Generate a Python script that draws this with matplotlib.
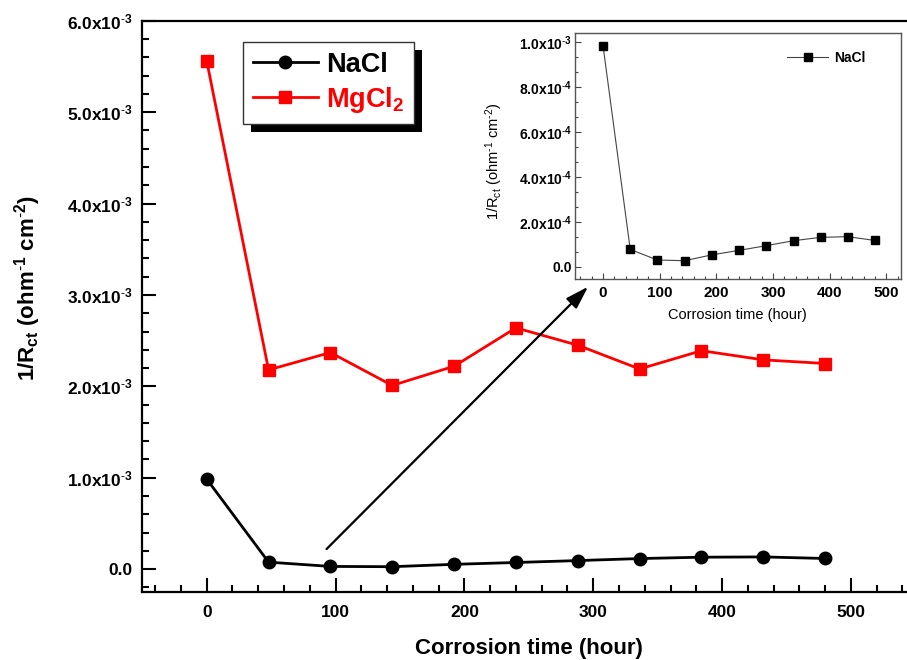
import matplotlib
matplotlib.use("Agg")
import matplotlib.pyplot as plt
from matplotlib.ticker import MultipleLocator, AutoMinorLocator
from matplotlib.patches import Rectangle
from matplotlib.transforms import IdentityTransform

plt.rcParams["font.family"] = ["Liberation Sans", "DejaVu Sans"]
plt.rcParams["mathtext.fontset"] = "custom"
plt.rcParams["mathtext.rm"] = "Liberation Sans"
plt.rcParams["mathtext.bf"] = "Liberation Sans:bold"
plt.rcParams["mathtext.it"] = "Liberation Sans:italic"
plt.rcParams["mathtext.default"] = "regular"

# данные
hours = [0, 48, 96, 144, 192, 240, 288, 336, 384, 432, 480]
nacl = [0.985e-3, 0.077e-3, 0.030e-3, 0.027e-3, 0.053e-3, 0.073e-3,
        0.094e-3, 0.116e-3, 0.131e-3, 0.134e-3, 0.117e-3]
mgcl2 = [5.56e-3, 2.18e-3, 2.37e-3, 2.01e-3, 2.22e-3, 2.64e-3,
         2.45e-3, 2.19e-3, 2.39e-3, 2.29e-3, 2.25e-3]

x_ticks = [0, 100, 200, 300, 400, 500]
y_ticks = [0, 1e-3, 2e-3, 3e-3, 4e-3, 5e-3, 6e-3]
y_tick_labels = ["0.0"] + [r"%d.0x10$^{\mathbf{\text{-}3}}$" % i for i in range(1, 7)]
inset_y_ticks = [0, 2e-4, 4e-4, 6e-4, 8e-4, 1e-3]
inset_y_tick_labels = ["0.0", r"2.0x10$^{\mathbf{\text{-}4}}$", r"4.0x10$^{\mathbf{\text{-}4}}$",
                       r"6.0x10$^{\mathbf{\text{-}4}}$", r"8.0x10$^{\mathbf{\text{-}4}}$",
                       r"1.0x10$^{\mathbf{\text{-}3}}$"]

fig = plt.figure(figsize=(9.07, 6.6), dpi=100)
ax = fig.add_axes([0.1569, 0.103, 0.8523, 0.8656])

ax.plot(hours, nacl, color="black", lw=2, marker="o", ms=9, label="NaCl")
ax.plot(hours, mgcl2, color="red", lw=2, marker="s", ms=8.5, label=r"MgCl$_{\mathbf{2}}$")

ax.set_xlim(-50, 550)
ax.set_ylim(-0.25e-3, 6e-3)
ax.set_xticks(x_ticks)
ax.xaxis.set_minor_locator(MultipleLocator(20))
ax.set_yticks(y_ticks)
ax.set_yticklabels(y_tick_labels)
ax.yaxis.set_minor_locator(MultipleLocator(0.2e-3))
ax.tick_params(which="both", direction="in", width=1.5, color="black")
ax.tick_params(which="major", length=10)
ax.tick_params(which="minor", length=5)
ax.tick_params(axis="x", labelsize=12.5, pad=9)
ax.tick_params(axis="y", labelsize=12.5, pad=7)
for t in ax.get_xticklabels() + ax.get_yticklabels():
    t.set_fontweight("bold")
for s in ax.spines.values():
    s.set_linewidth(1.6)

ax.set_xlabel("Corrosion time (hour)", fontsize=16, fontweight="bold")
ax.xaxis.set_label_coords(0.5, -0.08)
ax.xaxis.label.set_va("top")
ax.set_ylabel(r"1/R$_{\mathbf{ct}}$ (ohm$^{\mathbf{\text{-}1}}$ cm$^{\mathbf{\text{-}2}}$)",
              fontsize=16, fontweight="bold")
ax.yaxis.set_label_coords(-0.128, 0.532)

leg = ax.legend(loc="upper left", bbox_to_anchor=(0.1307, 0.9622), borderaxespad=0,
                prop={"weight": "bold", "size": 19.5},
                handlelength=2.4, handletextpad=0.3, labelspacing=0.25,
                borderpad=0.35, fancybox=False, framealpha=1, edgecolor="#333333")
leg.get_frame().set_linewidth(1.0)
leg.get_texts()[1].set_color("red")

# стрелка к вставке
ax.annotate("", xy=(296, 3.09e-3), xytext=(93, 0.22e-3), annotation_clip=False,
            arrowprops=dict(arrowstyle="-|>,head_length=0.7,head_width=0.22",
                            color="black", lw=1.6, mutation_scale=20,
                            shrinkA=0, shrinkB=0))

# вставка
ins = fig.add_axes([0.6336, 0.5768, 0.3594, 0.3727], zorder=5)
ins.set_facecolor("white")
ins.plot(hours, nacl, color="#444444", lw=0.8, marker="s", ms=5.5,
         mfc="black", mec="black", label="NaCl")
ins.set_xlim(-50, 525)
ins.set_ylim(-0.056e-3, 1.04e-3)
ins.set_xticks(x_ticks)
ins.xaxis.set_minor_locator(MultipleLocator(20))
ins.set_yticks(inset_y_ticks)
ins.set_yticklabels(inset_y_tick_labels)
ins.yaxis.set_minor_locator(AutoMinorLocator(3))
ins.tick_params(which="both", direction="in", width=0.8, color="#444444")
ins.tick_params(which="major", length=4)
ins.tick_params(which="minor", length=2.5)
ins.tick_params(axis="x", labelsize=11, pad=5)
ins.tick_params(axis="y", labelsize=10, pad=2)
for t in ins.get_xticklabels() + ins.get_yticklabels():
    t.set_fontweight("bold")
for s in ins.spines.values():
    s.set_linewidth(1.0)
    s.set_color("#555555")
ins.set_xlabel("Corrosion time (hour)", fontsize=10.5)
ins.xaxis.set_label_coords(0.5, -0.115)
ins.xaxis.label.set_va("top")
ins.set_ylabel(r"1/R$_{ct}$ (ohm$^{\text{-}1}$ cm$^{\text{-}2}$)", fontsize=10.5)
ins.yaxis.set_label_coords(-0.215, 0.48)
ins.legend(loc="upper right", bbox_to_anchor=(0.93, 0.98), frameon=False,
           prop={"weight": "bold", "size": 10}, handlelength=3.0, handletextpad=0.4)

# тень легенды
fig.canvas.draw()
bb = leg.get_frame().get_window_extent(fig.canvas.get_renderer())
shadow = Rectangle((bb.x0 + 8, bb.y0 - 8), bb.width, bb.height,
                   transform=IdentityTransform(), facecolor="black",
                   edgecolor="none", zorder=leg.get_zorder() - 0.1)
ax.add_artist(shadow)

fig.savefig("out.png", dpi=100)
